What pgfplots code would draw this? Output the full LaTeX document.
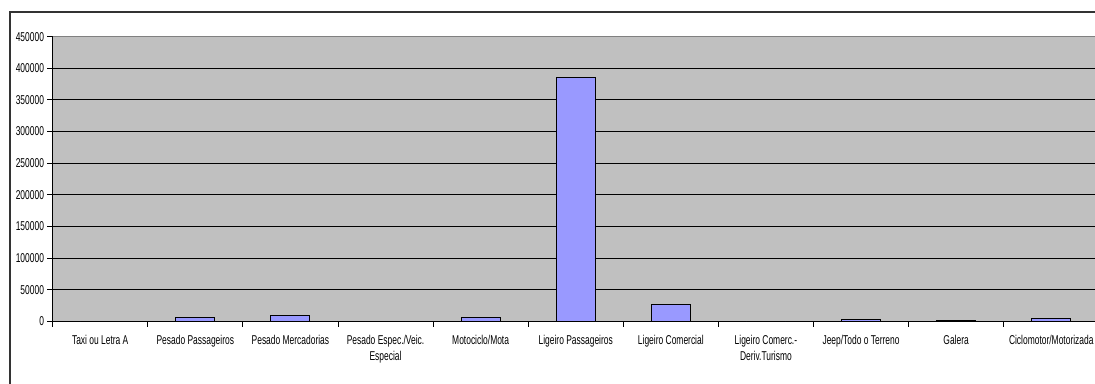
\documentclass[border=0pt]{standalone}
\usepackage{pgfplots}
\pgfplotsset{compat=1.18}
\usepackage{fontspec}
\setmainfont{Liberation Sans}

\definecolor{plotgray}{HTML}{C0C0C0}
\definecolor{barblue}{HTML}{9999FF}
\definecolor{bordergray}{HTML}{808080}
\definecolor{framegray}{HTML}{333333}

\newcommand\labfont{\fontsize{9.6}{12.2}\selectfont}

\begin{document}
\begin{tikzpicture}
  % page area, with the chart frame running past its right and bottom edges
  \path[use as bounding box] (0,0) rectangle (821.25pt,287.25pt);
  \clip (0,0) rectangle (821.25pt,287.25pt);
  \draw[line width=1pt, color=framegray] (7.5pt,-20pt) -- (7.5pt,278.25pt) -- (850pt,278.25pt);

  \begin{axis}[
      at={(39.5pt,46.3pt)}, anchor=south west,
      scale only axis, width=784.6pt, height=213.5pt,
      xmin=0.5, xmax=11.5, ymin=0, ymax=450000,
      axis background/.style={fill=plotgray},
      axis x line*=bottom, axis y line*=left,
      axis line style={black, line width=0.75pt},
      tick align=outside, major tick length=4.2pt,
      tick style={black, line width=0.6pt},
      % y axis
      scaled y ticks=false,
      ytick={0,50000,100000,150000,200000,250000,300000,350000,400000},
      yticklabels={0,50000,100000,150000,200000,250000,300000,350000,400000},
      extra y ticks={450000},
      extra y tick labels={450000},
      extra y tick style={grid=none},
      ymajorgrids,
      major grid style={black, line width=0.7pt},
      yticklabel style={font=\labfont, xscale=0.66, anchor=east},
      % x axis: ticks on category boundaries, names centred below
      xtick={0.5,1.5,2.5,3.5,4.5,5.5,6.5,7.5,8.5,9.5,10.5,11.5},
      xticklabels={,,,,,,,,,,,},
      extra x ticks={1,2,3,4,5,6,7,8,9,10,11},
      extra x tick labels={
        Taxi ou Letra A,
        Pesado Passageiros,
        Pesado Mercadorias,
        {Pesado Espec./Veic.\\Especial},
        Motociclo/Mota,
        Ligeiro Passageiros,
        Ligeiro Comercial,
        {Ligeiro Comerc.-\\Deriv.Turismo},
        Jeep/Todo o Terreno,
        Galera,
        Ciclomotor/Motorizada},
      extra x tick style={major tick length=0pt},
      xticklabel style={font=\labfont, xscale=0.66, align=center, anchor=north, yshift=-7pt},
      clip=false,
    ]
    \addplot[ybar, bar width=29.3pt, fill=barblue, draw=black, line width=0.75pt]
      coordinates {
        (1,0)
        (2,6200)
        (3,9800)
        (4,0)
        (5,6200)
        (6,385500)
        (7,26500)
        (8,0)
        (9,2500)
        (10,2000)
        (11,4000)
      };
    % plot-area border along the top
    \draw[bordergray, line width=0.9pt] (rel axis cs:0,1) -- (rel axis cs:1,1);
  \end{axis}
\end{tikzpicture}
\end{document}
